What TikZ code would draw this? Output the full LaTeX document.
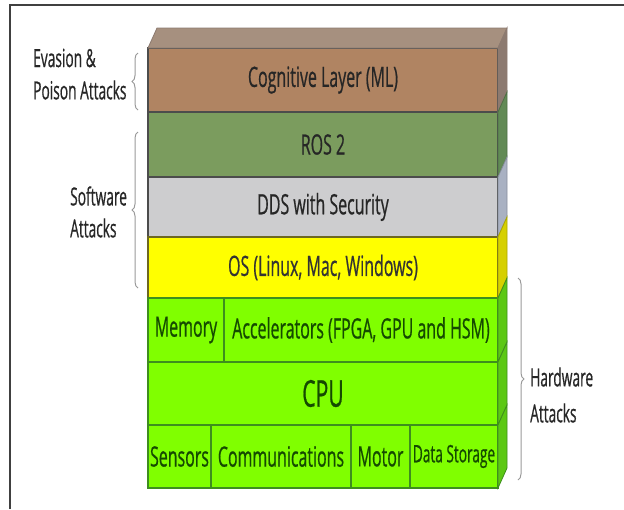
\documentclass[tikz,border=0pt]{standalone}
\usepackage{fontspec}
\setmainfont{Open Sans}[FakeStretch=0.57, FakeBold=0.6]
\newfontfamily\lblfont{Open Sans}[FakeStretch=0.55, FakeBold=0.6]
\usetikzlibrary{decorations.pathreplacing}
\definecolor{cogc}{HTML}{B08462}
\definecolor{cogtop}{HTML}{A6907F}
\definecolor{cogside}{HTML}{8C7A70}
\definecolor{rosc}{HTML}{7B9C5E}
\definecolor{rosside}{HTML}{628A55}
\definecolor{ddsc}{HTML}{CDCDCF}
\definecolor{ddsside}{HTML}{A9B1C2}
\definecolor{osc}{HTML}{FFFF00}
\definecolor{osside}{HTML}{D6D000}
\definecolor{hwc}{HTML}{80FF00}
\definecolor{hwside}{HTML}{5CC814}
\definecolor{hwline}{HTML}{3E8E1E}
\definecolor{hwtext}{HTML}{154A00}
\definecolor{lbl}{HTML}{262626}
\begin{document}
\begin{tikzpicture}[x=1pt,y=-1pt,
  cell/.style={draw=#1, line width=1.2pt, anchor=north west, inner sep=0pt, outer sep=0pt},
  big/.style={font=\fontsize{28}{32}\selectfont},
  small/.style={font=\fontsize{24}{28}\selectfont},
  sidelbl/.style={font=\lblfont\fontsize{25}{28}\selectfont, text=lbl, anchor=west, inner sep=0pt},
  brc/.style={draw=gray!80, line width=1pt, decorate, decoration={brace, amplitude=6pt}},
  face/.style={draw=#1, line width=0.8pt}]
\useasboundingbox (0,0) rectangle (624,509);
% frame
\draw[line width=1.6pt, black!75] (10,509) -- (10,5) -- (624,5);

% layers
\node[cell=gray!60!black, fill=cogc, minimum width=350pt, minimum height=64pt, big, text=black!85] (cog) at (148,48) {Cognitive Layer (ML)};
\node[cell=gray!60!black, fill=rosc, minimum width=350pt, minimum height=65pt, big, text=black!85] (ros) at (148,112) {ROS 2};
\node[cell=gray!60!black, fill=ddsc, minimum width=350pt, minimum height=60pt, big, text=black!85] (dds) at (148,177) {DDS with Security};
\node[cell=olive!70!black, fill=osc, minimum width=350pt, minimum height=61pt, big, text=black!80] (os) at (148,237) {OS (Linux, Mac, Windows)};
\node[cell=hwline, fill=hwc, minimum width=76pt, minimum height=64pt, big, text=hwtext] (mem) at (148,298) {Memory};
\node[cell=hwline, fill=hwc, minimum width=274pt, minimum height=64pt, big, text=hwtext] (acc) at (224,298) {Accelerators (FPGA, GPU and HSM)};
\node[cell=hwline, fill=hwc, minimum width=350pt, minimum height=63pt, font=\fontsize{37}{40}\selectfont, text=hwtext] (cpu) at (148,362) {CPU};
\node[cell=hwline, fill=hwc, minimum width=63pt, minimum height=63pt, big, text=hwtext] (sen) at (148,425) {Sensors};
\node[cell=hwline, fill=hwc, minimum width=140pt, minimum height=63pt, big, text=hwtext] (com) at (211,425) {Communications};
\node[cell=hwline, fill=hwc, minimum width=59pt, minimum height=63pt, big, text=hwtext] (mot) at (351,425) {Motor};
\node[cell=hwline, fill=hwc, minimum width=88pt, minimum height=63pt, small, text=hwtext] (dat) at (410,425) {Data Storage};

% top face
\filldraw[face=cogside, fill=cogtop] (cog.north west) -- ++(9,-20) -- ++(350,0) -- (cog.north east) -- cycle;
% side faces
\filldraw[face=cogside, fill=cogside] (cog.north east) -- ++(9,-20) -- ++(0,64) -- (cog.south east) -- cycle;
\filldraw[face=rosside!80!black, fill=rosside] (ros.north east) -- ++(9,-20) -- ++(0,65) -- (ros.south east) -- cycle;
\filldraw[face=ddsside!80!black, fill=ddsside] (dds.north east) -- ++(9,-20) -- ++(0,60) -- (dds.south east) -- cycle;
\filldraw[face=osside!80!black, fill=osside] (os.north east) -- ++(9,-20) -- ++(0,61) -- (os.south east) -- cycle;
\filldraw[face=hwline, fill=hwside] (acc.north east) -- ++(9,-20) -- ++(0,64) -- (acc.south east) -- cycle;
\filldraw[face=hwline, fill=hwside] (cpu.north east) -- ++(9,-20) -- ++(0,63) -- (cpu.south east) -- cycle;
\filldraw[face=hwline, fill=hwside] (dat.north east) -- ++(9,-20) -- ++(0,63) -- (dat.south east) -- cycle;

% braces
\coordinate (e1) at (138,110); \coordinate (e2) at (138,53);
\coordinate (s1) at (138,288); \coordinate (s2) at (138,132);
\coordinate (h1) at (518,278); \coordinate (h2) at (518,480);
\draw[brc] (e1) -- (e2);
\draw[brc] (s1) -- (s2);
\draw[brc] (h1) -- (h2);

% labels
\node[sidelbl] (ev1) at (33,58) {Evasion \&};
\node[sidelbl] (ev2) at (33,90) {Poison Attacks};
\node[sidelbl] (sw1) at (70,196) {Software};
\node[sidelbl] (sw2) at (70,228) {Attacks};
\node[sidelbl] (hw1) at (530,377) {Hardware};
\node[sidelbl] (hw2) at (530,413) {Attacks};
\end{tikzpicture}
\end{document}
